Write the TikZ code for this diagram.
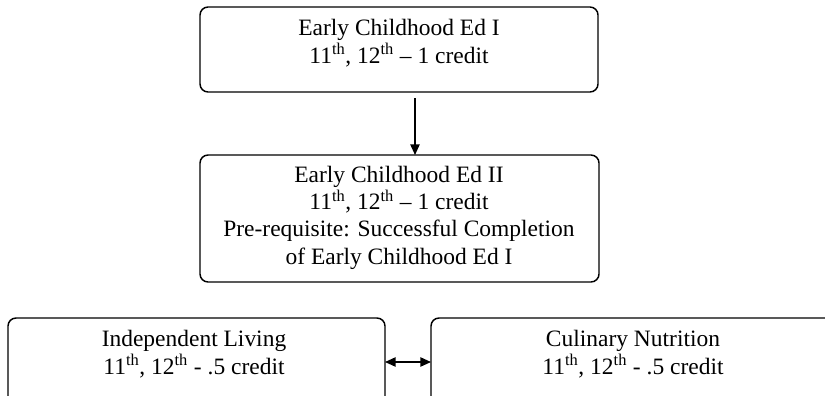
\documentclass[tikz,border=0pt]{standalone}
\usepackage{fontspec}
\setmainfont{Liberation Serif}
\usetikzlibrary{arrows.meta,calc}
\begin{document}
\begin{tikzpicture}[x=0.75pt,y=-0.75pt,
  box/.style={draw, line width=1.1pt, rounded corners=6pt, inner sep=0pt, outer sep=0pt},
  txt/.style={font=\fontsize{17.6}{20.3}\selectfont, align=center, inner sep=0pt},
  arr/.style={line width=1.1pt, -{Triangle[length=8pt,width=7pt]}},
  darr/.style={line width=1.1pt, {Triangle[length=8pt,width=7pt]}-{Triangle[length=8pt,width=7pt]}}]
\useasboundingbox (0,0) rectangle (825,396);
\clip (0,0) rectangle (825,396);
% boxes
\node[box, minimum width=298.5pt, minimum height=63.75pt] (ece1) at (399,49.5) {};
\node[box, minimum width=299.25pt, minimum height=95.25pt] (ece2) at (399.5,218.5) {};
\node[box, minimum width=282.75pt, minimum height=76.5pt] (il) at (196.5,369) {};
\node[box, minimum width=303pt, minimum height=76.5pt] (cn) at (633,369) {};
% texts (anchor=base is the baseline of the last line)
\node[txt, anchor=base] (t1) at (399,63) {Early Childhood Ed I\\11\textsuperscript{th}, 12\textsuperscript{th} -- 1 credit};
\node[txt, anchor=base] (t2) at (399,264) {Early Childhood Ed II\\11\textsuperscript{th}, 12\textsuperscript{th} -- 1 credit\\Pre-requisite: Successful Completion\\of Early Childhood Ed I};
\node[txt, anchor=base] (t3) at (194,374) {Independent Living\\11\textsuperscript{th}, 12\textsuperscript{th} - .5 credit};
\node[txt, anchor=base] (t4) at (633,374) {Culinary Nutrition\\11\textsuperscript{th}, 12\textsuperscript{th} - .5 credit};
% connectors
\draw[arr] ($(ece1.south)+(16,6)$) -- ($(ece2.north)+(15.5,0)$);
\draw[darr] ($(il.east)+(0,-7)$) -- ($(cn.west)+(0,-7)$);
\end{tikzpicture}
\end{document}
